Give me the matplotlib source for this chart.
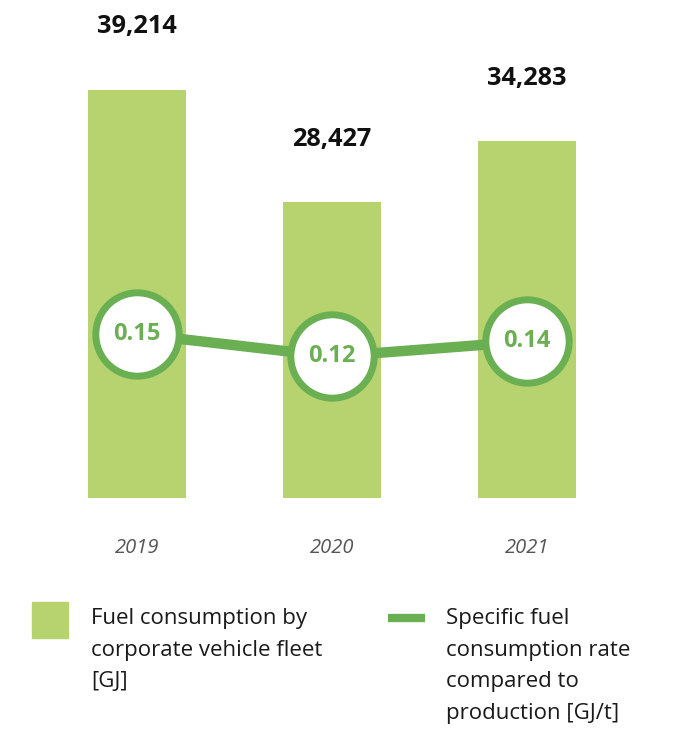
import matplotlib
matplotlib.use("Agg")
import matplotlib.pyplot as plt
from matplotlib.patches import Rectangle
from matplotlib.lines import Line2D

years = ["2019", "2020", "2021"]
fuel_gj = [39214, 28427, 34283]
rate_gjt = [0.15, 0.12, 0.14]
legend_labels = ["Fuel consumption by\ncorporate vehicle fleet\n[GJ]",
                 "Specific fuel\nconsumption rate\ncompared to\nproduction [GJ/t]"]

BAR = "#b6d36f"
LINE = "#6aaf52"
W, H = 687, 729
fig = plt.figure(figsize=(W / 100, H / 100), dpi=100)
plt.rcParams["font.family"] = ["Open Sans", "DejaVu Sans"]

def fx(px):
    return px / W

def fy(py):
    return 1 - py / H

# main axes: x pixels 39.5..624.5, y pixels 0..498 (from top)
ax = fig.add_axes([fx(39.5), fy(498), 585 / W, 498 / H])
ax.set_xlim(-0.5, 2.5)
px_per_unit = 408 / 39214
ax.set_ylim(0, 498 / px_per_unit)
ax.axis("off")
xs = list(range(len(years)))
ax.bar(xs, fuel_gj, width=0.5, color=BAR, zorder=1)
for x, v in zip(xs, fuel_gj):
    ax.annotate(f"{v:,}", (x, v), xytext=(0, 45.5), textcoords="offset points",
                ha="center", va="center", fontsize=18.3, fontweight="bold",
                color="#111111")
for x, yr in zip(xs, years):
    ax.annotate(yr, (x, 0), xytext=(0, -36), textcoords="offset points",
                ha="center", va="center", fontsize=14.5, style="italic",
                color="#555555")

ax2 = ax.twinx()
ax2.set_ylim(-0.0687, 0.5953)
ax2.axis("off")
ax2.plot(xs, rate_gjt, color=LINE, lw=7.5, zorder=2, solid_capstyle="butt")
ax2.plot(xs, rate_gjt, linestyle="none", marker="o", ms=60, mew=5,
         mec=LINE, mfc="white", zorder=3)
for x, v in zip(xs, rate_gjt):
    ax2.text(x, v, f"{v:.2f}", ha="center", va="center", fontsize=17,
             fontweight="bold", color=LINE, zorder=4)

# legend
fig.patches.append(Rectangle((fx(32), fy(638)), 36 / W, 36 / H,
                             transform=fig.transFigure, color=BAR))
fig.lines.append(Line2D([fx(388), fx(425)], [fy(618), fy(618)],
                        transform=fig.transFigure, color=LINE, lw=6,
                        solid_capstyle="butt"))
fig.text(fx(91), fy(608), legend_labels[0], ha="left", va="top",
         fontsize=16, color="#1a1a1a", linespacing=1.66)
fig.text(fx(446), fy(608), legend_labels[1], ha="left", va="top",
         fontsize=16, color="#1a1a1a", linespacing=1.66)

fig.savefig("out.png", dpi=100, facecolor="white")
